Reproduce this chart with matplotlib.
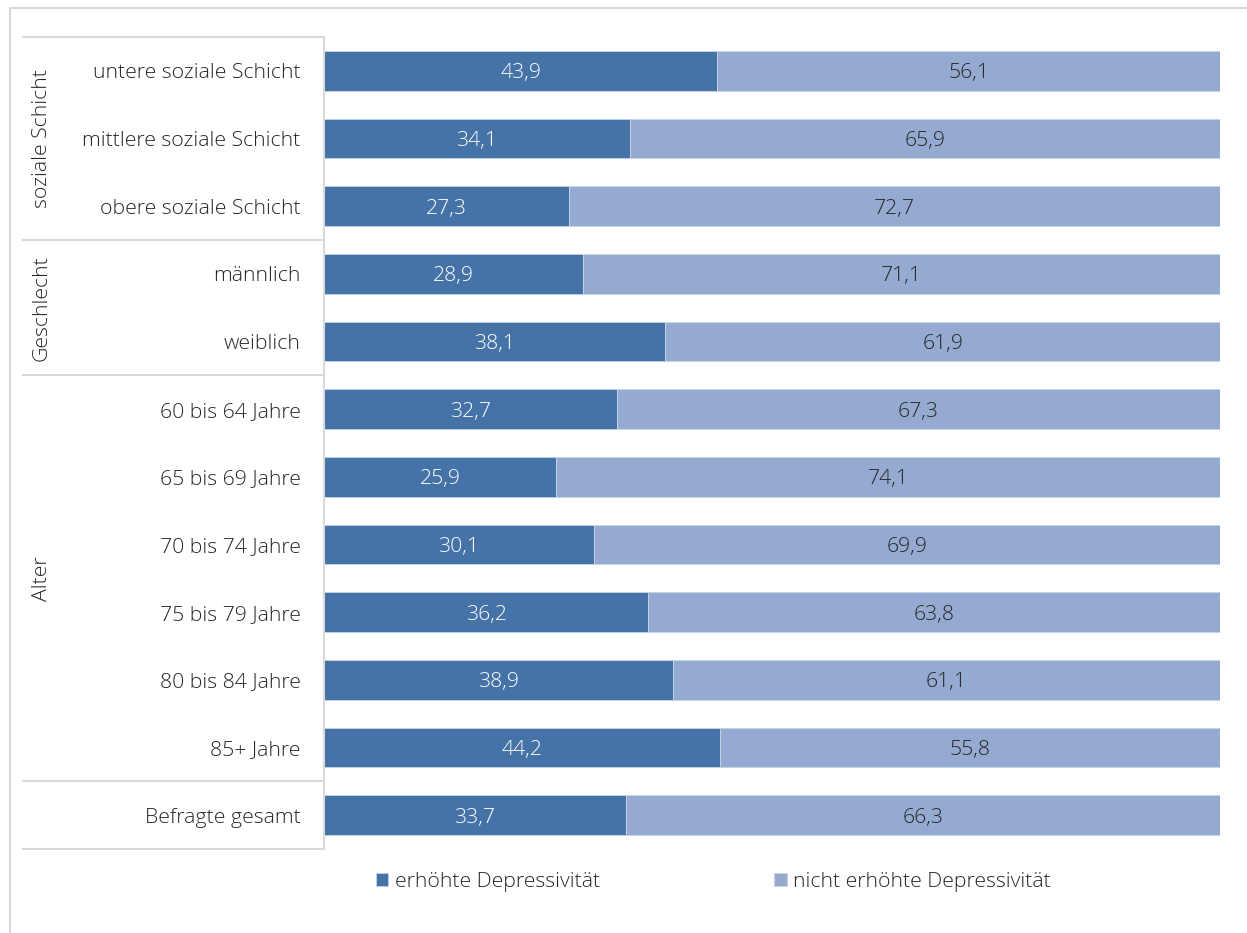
#!/usr/bin/env python3
"""Depressivität nach sozialer Schicht, Geschlecht und Alter (gestapelte Balken)."""
import matplotlib
matplotlib.use("Agg")
import matplotlib.pyplot as plt
from matplotlib.patches import Rectangle
from matplotlib.transforms import blended_transform_factory

categories = [
    "untere soziale Schicht", "mittlere soziale Schicht", "obere soziale Schicht",
    "männlich", "weiblich",
    "60 bis 64 Jahre", "65 bis 69 Jahre", "70 bis 74 Jahre",
    "75 bis 79 Jahre", "80 bis 84 Jahre", "85+ Jahre",
    "Befragte gesamt",
]
erhoeht = [43.9, 34.1, 27.3, 28.9, 38.1, 32.7, 25.9, 30.1, 36.2, 38.9, 44.2, 33.7]
nicht_erhoeht = [56.1, 65.9, 72.7, 71.1, 61.9, 67.3, 74.1, 69.9, 63.8, 61.1, 55.8, 66.3]
series_names = ["erhöhte Depressivität", "nicht erhöhte Depressivität"]

# Gruppen: (Name, erster Index, letzter Index)
groups = [("soziale Schicht", 0, 2), ("Geschlecht", 3, 4), ("Alter", 5, 10), ("", 11, 11)]

DARK = "#4673a7"
LIGHT = "#95aad1"
GRID = "#d9d9d9"
TEXT = "#262626"
FS = 15.3

plt.rcParams["font.family"] = ["Open Sans", "DejaVu Sans"]
plt.rcParams["font.weight"] = "light"

fig = plt.figure(figsize=(12.47, 9.33), dpi=100)
ax = fig.add_axes([324 / 1247, 1 - 849 / 933, (1220 - 324) / 1247, (849 - 37) / 933])

y = list(range(len(categories)))
ax.barh(y, erhoeht, height=0.59, color=DARK, edgecolor="#c8d4e8", linewidth=0.6,
        label=series_names[0])
ax.barh(y, nicht_erhoeht, left=erhoeht, height=0.59, color=LIGHT, edgecolor="#c8d4e8",
        linewidth=0.6, label=series_names[1])

for i in y:
    ax.text(erhoeht[i] / 2, i, f"{erhoeht[i]:.1f}".replace(".", ","),
            ha="center", va="center_baseline", color="white", fontsize=FS)
    ax.text(erhoeht[i] + nicht_erhoeht[i] / 2, i, f"{nicht_erhoeht[i]:.1f}".replace(".", ","),
            ha="center", va="center_baseline", color=TEXT, fontsize=FS)

ax.set_xlim(0, 100)
ax.set_ylim(len(categories) - 0.5, -0.5)
ax.set_xticks([])
ax.set_yticks(y)
ax.set_yticklabels(categories, fontsize=FS, color=TEXT, va="center_baseline")
ax.tick_params(axis="y", length=0, pad=17)
for side in ["top", "right", "bottom"]:
    ax.spines[side].set_visible(False)
ax.spines["left"].set_color(GRID)
ax.spines["left"].set_linewidth(1.5)

# Trennlinien und Gruppennamen links
trans = blended_transform_factory(ax.transAxes, ax.transData)
x_line = (23 - 324) / 896
x_group = (42 - 324) / 896
ax.plot([x_line, 0], [-0.5, -0.5], transform=trans, color=GRID, lw=1.5, clip_on=False)
for name, first, last in groups:
    ax.plot([x_line, 0], [last + 0.5, last + 0.5], transform=trans, color=GRID, lw=1.5,
            clip_on=False)
    if name:
        ax.text(x_group, (first + last) / 2, name, transform=trans, rotation=90,
                ha="center", va="center", fontsize=FS, color=TEXT)

leg = fig.legend(loc="center", bbox_to_anchor=(0.572, 1 - 882 / 933), ncol=2, frameon=False,
                 fontsize=FS, handlelength=0.6, handleheight=0.6, handletextpad=0.3,
                 columnspacing=8.2)
for t in leg.get_texts():
    t.set_color(TEXT)

# Rahmen des Diagramms
fig.patches.append(Rectangle((10 / 1247, -0.1), 1.2, 1 - 8 / 933 + 0.1,
                             transform=fig.transFigure, fill=False,
                             edgecolor=GRID, linewidth=1.5))

fig.savefig("out.png", dpi=100)
